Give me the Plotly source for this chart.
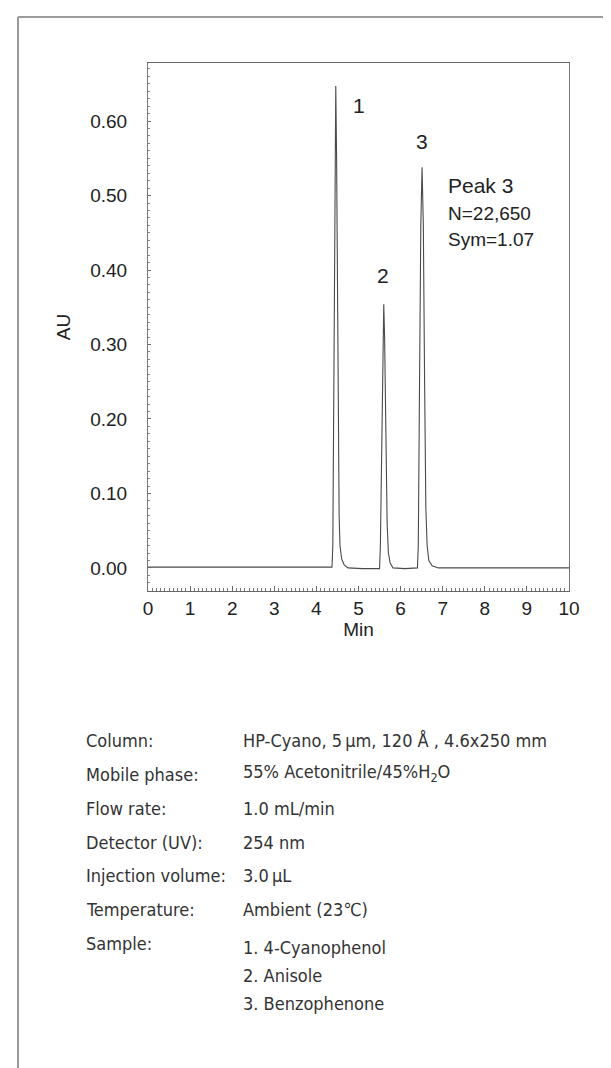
import plotly.graph_objects as go

# chromatogram (min, AU)
time_min = [0.0, 1.0, 2.0, 3.0, 4.0, 4.37, 4.39, 4.41, 4.44, 4.46, 4.48, 4.51, 4.54, 4.56, 4.60, 4.66, 4.75,
            5.1, 5.50, 5.52, 5.55, 5.58, 5.60, 5.62, 5.65, 5.68, 5.71, 5.75, 5.82,
            6.1, 6.40, 6.42, 6.45, 6.48, 6.51, 6.54, 6.57, 6.60, 6.63, 6.67, 6.75, 6.90,
            7.5, 8.0, 9.0, 10.0]
absorbance = [0.001, 0.001, 0.001, 0.001, 0.001, 0.001, 0.03, 0.25, 0.55, 0.647, 0.55, 0.25, 0.07, 0.03, 0.012, 0.004, 0.0,
              -0.001, -0.001, 0.03, 0.17, 0.31, 0.354, 0.31, 0.17, 0.06, 0.02, 0.007, 0.0,
              -0.001, 0.0, 0.03, 0.25, 0.46, 0.538, 0.46, 0.25, 0.08, 0.03, 0.01, 0.003, 0.0,
              0.0, 0.0, 0.0, 0.0]

peak_labels = ["1", "2", "3"]
peak_label_x = [5.01, 5.58, 6.51]
peak_label_y = [0.621, 0.392, 0.573]

peak3_note = ["Peak 3", "N=22,650", "Sym=1.07"]

cond_labels = ["Column:", "Mobile phase:", "Flow rate:", "Detector (UV):",
               "Injection volume:", "Temperature:", "Sample:"]
cond_values = ["HP-Cyano, 5\u2009\u03bcm, 120 \u00c5 , 4.6x250 mm",
               "55% Acetonitrile/45%H<sub>2</sub>O",
               "1.0 mL/min", "254 nm", "3.0\u2009\u03bcL", "Ambient (23\u2103)"]
samples = ["1. 4-Cyanophenol", "2. Anisole", "3. Benzophenone"]

W, H = 611, 1068
L, R, T, B = 140, 50, 55, 485
pw, ph = W - L - R, H - T - B


def px(x):
    return (x - L) / pw


def py(y):
    return (H - B - y) / ph


fig = go.Figure()
fig.add_trace(go.Scatter(x=time_min, y=absorbance, mode="lines",
                         line=dict(color="#4a4a4a", width=1.1), hoverinfo="skip"))

sans = "Liberation Sans, Arial, sans-serif"
narrow = "Liberation Sans Narrow, DejaVu Sans Condensed, Roboto, sans-serif"

ann = []
for t, x, y in zip(peak_labels, peak_label_x, peak_label_y):
    ann.append(dict(x=x, y=y, text=t, showarrow=False, xref="x", yref="y",
                    font=dict(family=sans, size=21, color="#222")))
for i, t in enumerate(peak3_note):
    ann.append(dict(x=7.08, y=[0.514, 0.476, 0.441][i], text=t, showarrow=False, xref="x", yref="y",
                    xanchor="left", font=dict(family=sans, size=21 if i == 0 else 19, color="#222")))

row_y = [745, 779, 813, 847, 880, 914, 948]
for lab, yy in zip(cond_labels, row_y):
    ann.append(dict(x=px(76), y=py(yy), text=lab, showarrow=False, xref="paper", yref="paper",
                    xanchor="left", font=dict(family=narrow, size=18, color="#333")))
for val, yy in zip(cond_values, row_y):
    ann.append(dict(x=px(233), y=py(yy), text=val, showarrow=False, xref="paper", yref="paper",
                    xanchor="left", font=dict(family=narrow, size=18, color="#333")))
for s, yy in zip(samples, [952, 980, 1008]):
    ann.append(dict(x=px(233), y=py(yy), text=s, showarrow=False, xref="paper", yref="paper",
                    xanchor="left", font=dict(family=narrow, size=18, color="#333")))

shapes = [
    dict(type="line", xref="paper", yref="paper", x0=px(10), x1=px(W + 5), y0=py(9), y1=py(9),
         line=dict(color="#9a9a9a", width=2)),
    dict(type="line", xref="paper", yref="paper", x0=px(10), x1=px(10), y0=py(9), y1=py(H + 5),
         line=dict(color="#9a9a9a", width=2)),
]

fig.update_layout(
    width=W, height=H,
    margin=dict(l=L, r=R, t=T, b=B),
    paper_bgcolor="white", plot_bgcolor="white",
    showlegend=False,
    annotations=ann, shapes=shapes,
    xaxis=dict(range=[0, 10], dtick=1, tick0=0, showline=True, mirror=True, linecolor="#666",
               linewidth=1, ticks="inside", ticklen=5, tickcolor="#666", showgrid=False, zeroline=False,
               minor=dict(dtick=0.1, ticks="inside", ticklen=3, tickcolor="#777"),
               tickfont=dict(family=sans, size=19, color="#222"),
               title=dict(text="Min", font=dict(family=sans, size=19, color="#222"), standoff=2)),
    yaxis=dict(range=[-0.031, 0.678], dtick=0.1, tick0=0, tickformat=".2f", showline=True, mirror=True,
               linecolor="#777", linewidth=1, ticks="inside", ticklen=3, tickcolor="#666",
               showgrid=False, zeroline=False, ticklabelstandoff=16,
               minor=dict(dtick=0.01, ticks="inside", ticklen=2, tickcolor="#888"),
               tickfont=dict(family=sans, size=19, color="#222"),
               title=dict(text="AU", font=dict(family=sans, size=19, color="#222"), standoff=14)),
)

fig.write_html("out.html")
